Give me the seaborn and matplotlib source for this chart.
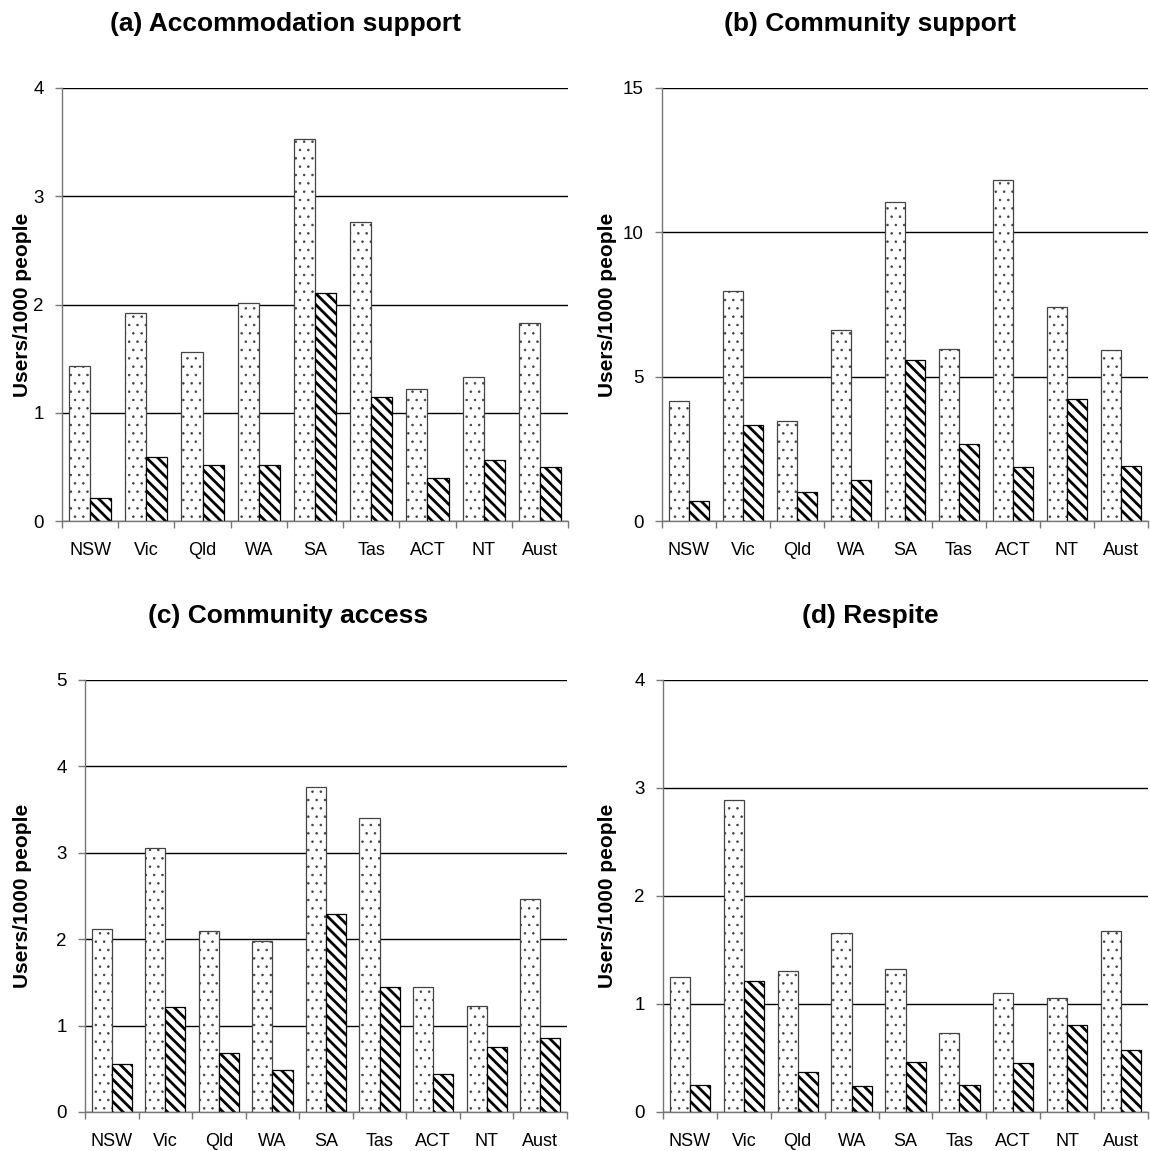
import matplotlib
matplotlib.use("Agg")
import matplotlib.pyplot as plt
import numpy as np
import pandas as pd
import seaborn as sns

# Users of disability support services per 1000 people, by state/territory
states = ["NSW", "Vic", "Qld", "WA", "SA", "Tas", "ACT", "NT", "Aust"]
groups = ["Group 1", "Group 2"]

accommodation_g1 = [1.43, 1.92, 1.56, 2.01, 3.53, 2.76, 1.22, 1.33, 1.83]
accommodation_g2 = [0.21, 0.59, 0.52, 0.52, 2.11, 1.15, 0.40, 0.56, 0.50]

community_support_g1 = [4.17, 7.97, 3.48, 6.61, 11.04, 5.95, 11.82, 7.40, 5.91]
community_support_g2 = [0.68, 3.32, 0.99, 1.41, 5.57, 2.66, 1.86, 4.24, 1.90]

community_access_g1 = [2.12, 3.05, 2.09, 1.98, 3.76, 3.40, 1.45, 1.23, 2.46]
community_access_g2 = [0.56, 1.22, 0.68, 0.49, 2.29, 1.45, 0.44, 0.75, 0.86]

respite_g1 = [1.25, 2.89, 1.31, 1.66, 1.32, 0.73, 1.10, 1.06, 1.68]
respite_g2 = [0.25, 1.21, 0.37, 0.24, 0.46, 0.25, 0.45, 0.81, 0.57]

titles = ["(a) Accommodation support", "(b) Community support",
          "(c) Community access", "(d) Respite"]
y_limits = [4, 15, 5, 4]
y_steps = [1, 5, 1, 1]
y_label = "Users/1000 people"

panels = [
    (accommodation_g1, accommodation_g2),
    (community_support_g1, community_support_g2),
    (community_access_g1, community_access_g2),
    (respite_g1, respite_g2),
]

sns.set_theme(style="white")
plt.rcParams["font.family"] = ["Liberation Sans", "DejaVu Sans"]
plt.rcParams["text.color"] = "black"
plt.rcParams["axes.labelcolor"] = "black"
plt.rcParams["xtick.color"] = "black"
plt.rcParams["ytick.color"] = "black"
plt.rcParams["hatch.linewidth"] = 2.0

W, H = 1150, 1151
fig = plt.figure(figsize=(W / 100, H / 100), dpi=100)

# axes boxes in pixels: left, top, right, bottom
boxes = [
    (62, 88, 568, 521),
    (662, 88, 1148, 521),
    (85, 680, 567, 1112),
    (663, 680, 1148, 1112),
]
title_y = [24, 24, 616, 616]
title_x = [285, 870, 288, 870]
label_x = [32, 617, 32, 617]

for i, (g1, g2) in enumerate(panels):
    l, t, r, b = boxes[i]
    ax = fig.add_axes([l / W, 1 - b / H, (r - l) / W, (b - t) / H])
    df = pd.DataFrame({
        "state": states * 2,
        "group": [groups[0]] * len(states) + [groups[1]] * len(states),
        "value": list(g1) + list(g2),
    })
    sns.barplot(data=df, x="state", y="value", hue="group", ax=ax,
                order=states, hue_order=groups, width=0.75,
                palette=["white", "white"], legend=False,
                edgecolor="#222222", linewidth=0.9, saturation=1)
    for cont, hatch in zip(ax.containers, ["..", "\\\\\\"]):
        for bar in cont:
            bar.set_hatch(hatch)
            bar.set_facecolor("white")
            if hatch == "..":
                bar.set_edgecolor("#444444")
                if hasattr(bar, "set_hatch_linewidth"):
                    bar.set_hatch_linewidth(0.6)
            else:
                bar.set_edgecolor("#000000")

    ax.set_xlim(-0.5, len(states) - 0.5)
    ax.set_ylim(0, y_limits[i])
    ax.set_yticks(np.arange(0, y_limits[i] + 0.01, y_steps[i]))
    ax.yaxis.grid(True, color="black", linewidth=1.0)
    ax.xaxis.grid(False)
    ax.set_axisbelow(True)

    ax.set_xticks(range(len(states)))
    ax.set_xticklabels(states)
    ax.set_xticks(np.arange(-0.5, len(states)), minor=True)
    ax.tick_params(axis="x", which="major", length=0, pad=15,
                   labelsize=13, labelcolor="black")
    ax.tick_params(axis="x", which="minor", length=5, width=1,
                   color="#777777", direction="out", bottom=True)
    ax.tick_params(axis="y", which="major", length=5, width=1,
                   color="#777777", direction="out", left=True,
                   labelsize=13.5, labelcolor="black", pad=8)

    for side in ["top", "right"]:
        ax.spines[side].set_visible(False)
    for side in ["left", "bottom"]:
        ax.spines[side].set_color("#777777")
        ax.spines[side].set_linewidth(1.0)

    ax.set_xlabel("")
    ax.set_ylabel(y_label, fontsize=15, fontweight="bold", color="black")
    ax.yaxis.set_label_coords((label_x[i] - l) / (r - l), 0.5)
    fig.text(title_x[i] / W, 1 - title_y[i] / H, titles[i],
             ha="center", va="center", fontsize=19, fontweight="bold")

fig.savefig("out.png", dpi=100, facecolor="white")
